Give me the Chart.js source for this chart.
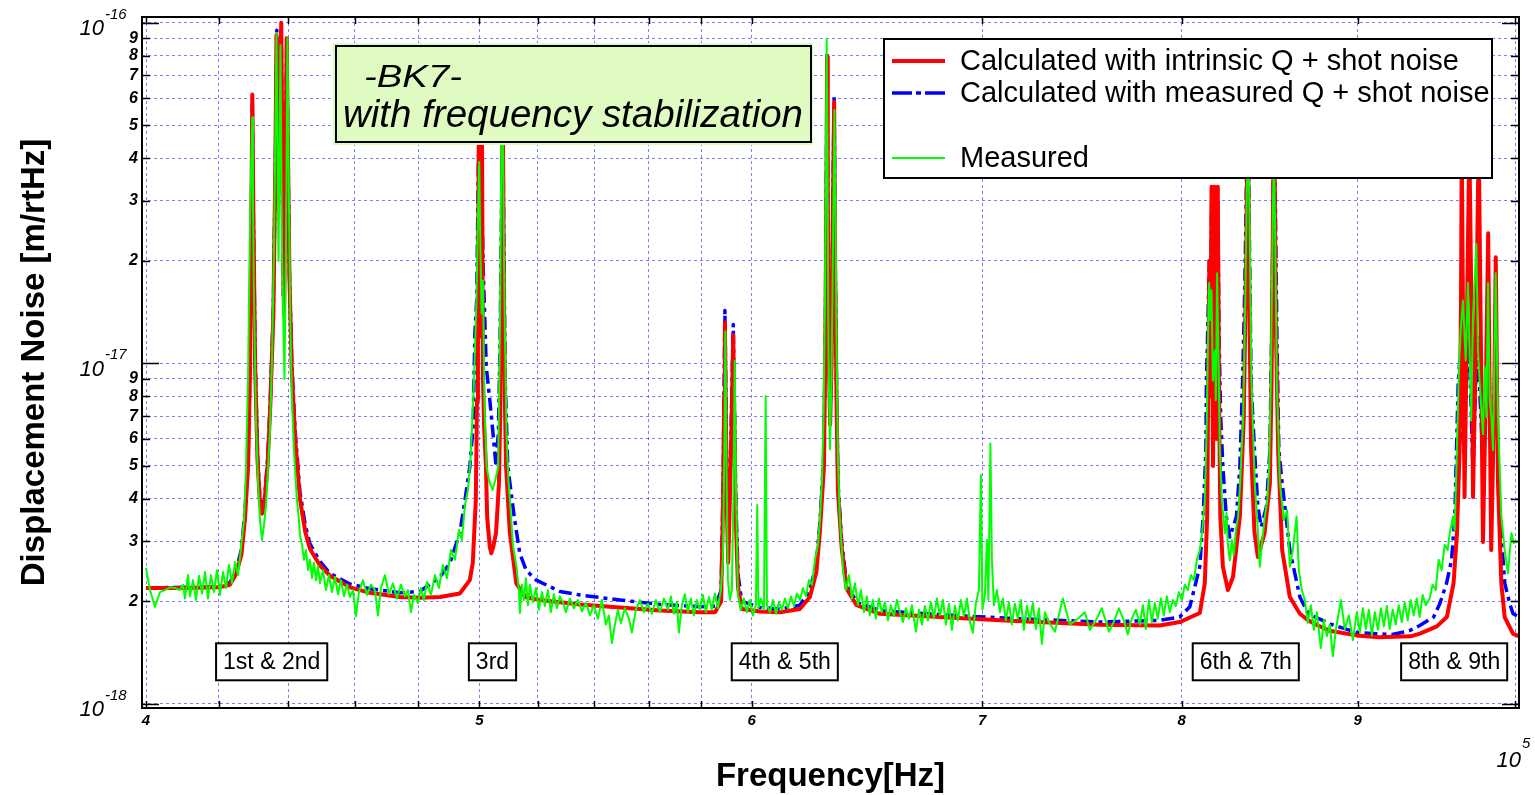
<!DOCTYPE html>
<html>
<head>
<meta charset="utf-8">
<title>BK7 displacement noise</title>
<script src="https://cdn.jsdelivr.net/npm/chart.js@4.4.1/dist/chart.umd.min.js"></script>
<style>
  html, body { margin: 0; padding: 0; background: #fff; }
</style>
</head>
<body>
<canvas id="noise" width="1535" height="795"></canvas>
<script>
// values: [frequency Hz, noise in units of 1e-18 m/rtHz]
const intrinsicQ = [
  [40000,2.19],[41000,2.19],[42000,2.20],[42310,2.24],[42480,2.40],[42640,2.75],[42740,3.5],[42830,5.0],[42880,9.0],[42920,25],
  [42950,61.5],[42980,28],[43030,10],[43100,5.2],[43170,3.9],[43230,3.62],[43300,3.9],[43390,5.0],[43470,7.5],[43560,14],
  [43620,40],[43650,92],[43680,45],[43710,35],[43750,60],[43790,100],[43830,30],[43870,14],[43910,30],[43950,90],
  [43990,40],[44030,18],[44100,9.5],[44200,6.0],[44340,4.0],[44500,3.2],[44640,2.85],[44940,2.55],[45240,2.38],[45850,2.2],
  [46470,2.12],[47410,2.06],[48050,2.05],[48700,2.06],[49350,2.11],[49680,2.31],[49780,2.6],[49880,3.97],[49920,7.8],[49950,15],
  [49980,45],[50010,80],[50040,12],[50080,70],[50120,9],[50160,6.5],[50220,4.97],[50260,3.54],[50350,2.89],[50400,2.77],
  [50470,2.9],[50560,3.18],[50660,4.45],[50700,7],[50730,12.3],[50760,30],[50790,60],[50820,19.2],[50860,7.8],[50900,5.0],
  [51030,3.18],[51250,2.26],[51560,2.06],[52070,2.02],[53480,1.96],[54930,1.92],[56420,1.88],[57950,1.86],[58540,1.86],[58780,2.0],
  [58860,4.0],[58900,8],[58930,13.2],[58960,8],[59000,4],[59060,2.6],[59120,3.8],[59200,7],[59260,12.1],[59300,7],
  [59360,3.5],[59450,2.2],[59600,1.9],[60330,1.87],[61140,1.86],[61960,1.90],[62380,2.06],[62650,2.44],[62800,3.22],[62970,5],
  [63030,12],[63080,40],[63100,79.5],[63130,30],[63180,10],[63230,6.6],[63290,10],[63340,25],[63400,58.5],[63440,20],
  [63500,8],[63560,4.24],[63720,2.88],[63930,2.18],[64360,1.95],[65370,1.84],[68050,1.80],[70840,1.76],[75740,1.71],[78840,1.70],
  [79900,1.74],[80980,1.85],[81250,2.26],[81380,3.54],[81440,8.8],[81500,20],[81550,8],[81620,33],[81700,5],[81790,33],
  [81880,6],[81960,33],[82030,8],[82100,3.55],[82240,2.53],[82520,2.16],[82800,2.36],[83180,3.55],[83400,6.96],[83540,21.5],
  [83620,60],[83720,13.7],[83810,5.56],[84000,3.18],[84190,2.7],[84570,3.18],[84870,4.45],[84960,8.7],[85060,33.7],[85110,60],
  [85200,13.7],[85340,5.56],[85570,2.83],[86010,2.06],[86590,1.84],[87080,1.76],[87650,1.70],[88340,1.64],[89950,1.59],[91300,1.57],
  [93250,1.58],[93830,1.61],[94900,1.69],[95540,1.80],[95970,2.26],[96190,3.17],[96360,5.56],[96450,15],[96500,45],[96600,10],
  [96680,4.05],[96820,12],[96990,45],[97150,12],[97230,4.05],[97420,12],[97600,45],[97780,8],[97880,2.99],[98060,8],
  [98220,24.1],[98330,7],[98420,2.83],[98620,8],[98720,20.5],[98870,4.44],[99090,2.26],[99310,1.80],[99860,1.61],[100300,1.58]
];

const measuredQ = [
  [40000,2.19],[42000,2.21],[42310,2.27],[42480,2.45],[42640,2.85],[42740,3.7],[42830,5.3],[42880,9.5],[42920,24],[42950,58],
  [42980,27],[43030,10.5],[43100,5.4],[43170,4.0],[43230,3.75],[43300,4.0],[43390,5.2],[43470,7.8],[43560,14.5],[43620,40],
  [43660,95],[43700,30],[43740,50],[43790,95],[43850,15.8],[43910,35],[43950,88],[43990,40],[44030,18.5],[44100,10],
  [44200,6.3],[44340,4.2],[44500,3.35],[44640,2.95],[44940,2.62],[45240,2.42],[45850,2.25],[46470,2.18],[47410,2.12],[48050,2.14],
  [48700,2.36],[49020,2.59],[49350,3.18],[49520,3.97],[49680,4.97],[49790,6.5],[49850,12.3],[49910,15.3],[49960,35],[50000,60],
  [50060,40],[50120,20],[50230,9.78],[50350,7.8],[50460,6.2],[50550,5.1],[50640,6.2],[50700,12],[50750,30],[50790,55],
  [50830,20],[50870,9],[50960,4.97],[51180,3.54],[51370,2.77],[51590,2.47],[51940,2.31],[52770,2.14],[53480,2.09],[54930,2.02],
  [56420,1.96],[57950,1.93],[58540,1.94],[58780,2.15],[58860,4.5],[58900,9],[58930,14.3],[58960,9],[59000,4.5],[59060,2.9],
  [59120,4.3],[59200,8],[59260,13.0],[59300,8],[59360,4],[59450,2.4],[59600,2.0],[60330,1.92],[61140,1.90],[61960,1.95],
  [62380,2.15],[62650,2.6],[62800,3.4],[62970,5.5],[63030,13],[63080,42],[63100,81.6],[63130,32],[63180,11],[63230,7.2],
  [63290,11],[63340,27],[63400,60.5],[63440,22],[63500,8.5],[63560,4.5],[63720,3.0],[63930,2.25],[64360,1.99],[65370,1.88],
  [68050,1.83],[70840,1.79],[75740,1.74],[78840,1.76],[79900,1.80],[80440,1.93],[80980,2.53],[81160,3.54],[81310,5.56],[81340,8.76],
  [81500,20],[81550,12],[81620,30],[81700,10],[81790,30],[81880,10],[81960,30],[82030,12],[82120,6.96],[82240,4.97],
  [82430,3.55],[82620,3.09],[82990,3.55],[83180,4.97],[83330,8.74],[83460,17.1],[83620,60],[83810,8.74],[84000,5.56],[84190,3.79],
  [84380,3.31],[84670,3.79],[84870,5.56],[85000,15],[85110,60],[85270,12],[85380,5.56],[85570,4.45],[86010,2.83],[86590,2.06],
  [87080,1.84],[88340,1.72],[89950,1.62],[92110,1.60],[93170,1.64],[93830,1.70],[94700,1.80],[95090,1.97],[95520,2.26],[95840,2.64],
  [96050,3.54],[96270,8.74],[96370,10.2],[96500,7],[96630,5.5],[96950,13],[97220,4.86],[97500,12],[97850,5.5],[98190,11],
  [98420,5],[98700,10],[98990,3.54],[99320,2.26],[99650,1.97],[99870,1.84],[100300,1.80]
];

const measured = [
  [40000,2.51],[40107,2.16],[40240,1.93],[40376,2.13],[40510,2.16],[40648,2.20],[40784,2.19],[40920,2.16],[41002,2.24],[41057,2.04],
  [41140,2.39],[41195,2.07],[41278,2.31],[41361,2.02],[41444,2.38],[41528,2.11],[41611,2.44],[41694,2.04],[41778,2.39],[41862,2.13],
  [41946,2.47],[42030,2.09],[42115,2.44],[42200,2.19],[42285,2.56],[42370,2.26],[42455,2.61],[42540,2.39],[42625,2.87],[42711,3.47],
  [42768,4.86],[42826,8.9],[42883,26],[42926,42],[42949,52.8],[42969,30],[42998,15.3],[43056,6.8],[43113,4.5],[43171,3.47],
  [43229,3.03],[43287,3.35],[43345,3.84],[43403,4.86],[43461,6.37],[43519,10.2],[43577,21.5],[43621,51.8],[43650,93],[43680,42],
  [43709,20],[43767,86],[43811,21.5],[43855,12.5],[43884,9.0],[43928,21.5],[43972,90],[44016,30],[44061,12.5],[44105,7.8],
  [44164,5.57],[44244,4.05],[44312,3.47],[44342,3.13],[44402,2.93],[44461,2.65],[44521,2.83],[44580,2.47],[44640,2.65],[44700,2.34],
  [44760,2.60],[44820,2.31],[44880,2.54],[44939,2.26],[45030,2.47],[45120,2.16],[45211,2.39],[45302,2.13],[45393,2.36],[45484,2.10],
  [45576,2.31],[45667,2.07],[45759,2.24],[45850,2.06],[45942,2.16],[46035,1.81],[46127,2.13],[46251,2.31],[46375,2.09],[46499,2.24],
  [46624,2.16],[46718,1.82],[46812,2.19],[46938,2.39],[47062,2.10],[47188,2.26],[47315,2.04],[47442,2.24],[47570,2.07],[47665,2.16],
  [47761,1.86],[47857,2.09],[47985,1.98],[48081,2.19],[48178,2.02],[48275,2.28],[48404,2.09],[48534,2.39],[48664,2.19],[48794,2.56],
  [48925,2.34],[49056,2.83],[49188,2.65],[49319,3.24],[49418,3.03],[49518,3.84],[49617,4.25],[49700,5.2],[49766,6.8],[49833,9.56],
  [49900,15.3],[49950,26],[49993,39],[50034,21.5],[50074,14],[50118,17.5],[50168,7.8],[50242,4.97],[50319,4.55],[50443,4.25],
  [50538,4.55],[50632,4.97],[50691,12.5],[50725,30],[50759,55],[50793,52],[50827,21.5],[50861,12.3],[50918,6.2],[50980,4.55],
  [51032,3.97],[51134,2.93],[51261,2.52],[51340,2.16],[51374,1.85],[51443,2.24],[51512,2.02],[51581,2.34],[51650,1.95],[51719,2.24],
  [51823,1.99],[51927,2.19],[52032,1.89],[52136,2.13],[52241,1.94],[52346,2.16],[52450,1.86],[52556,2.10],[52662,1.91],[52768,2.07],
  [52874,1.99],[52980,1.86],[53122,2.04],[53265,1.91],[53408,2.02],[53552,1.87],[53695,1.98],[53838,1.82],[53983,1.95],[54127,1.78],
  [54272,2.02],[54417,1.71],[54527,1.82],[54636,1.51],[54746,1.71],[54856,1.89],[54967,1.73],[55114,1.91],[55261,1.78],[55372,1.62],
  [55521,1.89],[55670,2.02],[55819,1.86],[55968,1.97],[56118,1.84],[56269,2.02],[56420,1.86],[56571,2.04],[56722,1.89],[56836,2.07],
  [56951,1.84],[57065,1.99],[57142,1.62],[57257,1.95],[57372,2.10],[57487,1.86],[57602,2.04],[57718,1.82],[57834,2.02],[57950,1.89],
  [58067,2.09],[58184,1.86],[58300,2.06],[58417,1.89],[58535,2.11],[58653,1.91],[58770,2.16],[58849,2.65],[58908,5.57],[58948,12.4],
  [58987,5.57],[59047,2.31],[59126,2.02],[59205,2.16],[59265,3.97],[59317,10.2],[59364,4.55],[59443,2.09],[59562,1.89],[59682,2.04],
  [59802,1.86],[59922,2.02],[60043,1.82],[60165,1.95],[60218,3.84],[60267,1.91],[60369,2.04],[60490,1.89],[60559,8.0],[60612,1.95],
  [60734,1.86],[60856,2.02],[60979,1.84],[61101,1.99],[61224,1.89],[61347,2.04],[61470,1.91],[61593,2.07],[61717,1.94],[61841,2.11],
  [61965,2.02],[62090,2.19],[62215,2.07],[62339,2.31],[62464,2.24],[62590,2.65],[62716,2.93],[62800,3.47],[62884,4.55],[62948,6.8],
  [63011,15.3],[63053,42],[63083,89.6],[63117,42],[63159,10.9],[63222,5.6],[63286,8.9],[63349,21.5],[63413,55.4],[63455,30],
  [63497,12.5],[63561,5.2],[63646,3.47],[63786,2.44],[63903,2.16],[64031,2.39],[64160,2.04],[64289,2.26],[64418,1.95],[64547,2.16],
  [64677,1.86],[64802,2.07],[64932,1.82],[65063,2.02],[65193,1.78],[65324,2.04],[65460,1.86],[65592,1.99],[65724,1.76],[65855,1.95],
  [65988,1.81],[66121,2.02],[66254,1.86],[66387,1.74],[66521,1.91],[66654,1.78],[66788,1.95],[66967,1.63],[67101,1.89],[67236,1.71],
  [67370,1.94],[67506,1.76],[67641,1.99],[67777,1.78],[67914,2.04],[68051,1.82],[68188,2.02],[68326,1.71],[68463,1.97],[68601,1.65],
  [68739,1.94],[68876,1.76],[69015,2.02],[69154,1.81],[69293,2.04],[69432,1.74],[69571,1.62],[69711,1.98],[69850,2.16],[69944,4.7],
  [70014,1.89],[70131,2.09],[70225,3.03],[70295,2.02],[70390,5.82],[70460,2.65],[70555,1.95],[70697,2.16],[70838,1.86],[70980,2.04],
  [71123,1.76],[71266,1.99],[71409,1.71],[71552,1.97],[71696,1.78],[71840,2.02],[71985,1.65],[72129,1.94],[72274,1.76],[72420,1.98],
  [72566,1.66],[72712,1.91],[72858,1.50],[73005,1.86],[73152,1.76],[73495,1.63],[73887,2.04],[74235,1.71],[74633,1.78],[74984,1.86],
  [75235,1.65],[75538,1.76],[75843,1.91],[76200,1.63],[76448,1.74],[76708,1.91],[76966,1.76],[77169,1.60],[77376,1.78],[77587,1.89],
  [77795,1.71],[77952,1.95],[78109,1.66],[78266,2.02],[78422,1.74],[78580,1.98],[78737,1.78],[78896,2.04],[79054,1.82],[79213,2.07],
  [79372,1.86],[79532,2.02],[79692,1.94],[79852,2.13],[80012,2.02],[80173,2.24],[80334,2.16],[80495,2.39],[80657,2.31],[80819,2.65],
  [80982,2.83],[81118,3.24],[81253,3.97],[81362,6.8],[81433,12.5],[81488,17.2],[81553,13.4],[81618,16.4],[81689,8.9],[81798,10.9],
  [81853,7.8],[81924,18.4],[82017,8.9],[82073,5.56],[82183,3.97],[82348,3.17],[82441,3.64],[82514,2.93],[82624,2.64],[82735,3.03],
  [82845,2.74],[82956,3.24],[83083,3.55],[83206,4.55],[83362,6.96],[83485,15.3],[83569,32.3],[83642,48],[83709,30],[83833,8.7],
  [84018,4.45],[84186,3.24],[84299,2.53],[84412,2.93],[84582,3.55],[84725,3.97],[84827,4.97],[84924,8.9],[85010,21.5],[85095,45],
  [85180,21.5],[85266,8.7],[85437,4.45],[85666,3.47],[85855,3.71],[86010,2.53],[86183,2.83],[86397,3.55],[86530,2.47],[86704,2.16],
  [86878,2.02],[87053,1.73],[87228,1.95],[87403,1.65],[87578,1.86],[87813,1.46],[87990,1.76],[88166,1.58],[88343,1.71],[88520,1.38],
  [88700,1.65],[88997,2.02],[89235,1.66],[89474,1.82],[89714,1.54],[89954,1.86],[90135,1.62],[90316,1.91],[90498,1.66],[90680,1.89],
  [90863,1.59],[91046,1.86],[91229,1.65],[91413,1.91],[91597,1.69],[91781,1.94],[91955,1.66],[92140,1.89],[92326,1.71],[92512,1.95],
  [92698,1.74],[92884,1.99],[93070,1.76],[93256,2.02],[93443,1.82],[93631,2.04],[93819,1.80],[94007,2.09],[94196,1.95],[94448,2.04],
  [94638,2.24],[94828,2.16],[95018,2.65],[95209,2.47],[95400,2.93],[95592,2.83],[95722,3.17],[95934,3.55],[96043,3.24],[96152,4.97],
  [96320,9.78],[96429,12.5],[96578,15.3],[96752,10.2],[96900,17.2],[97011,10.46],[97108,6.8],[97225,13.7],[97446,22.4],[97551,10.9],
  [97667,8.7],[97881,6.2],[97993,9.78],[98105,6.96],[98210,17.2],[98322,7.8],[98434,6.96],[98539,5.56],[98716,18.4],[98868,6.96],
  [99093,3.55],[99311,2.83],[99531,2.42],[99758,3.17],[99911,2.97],[100180,3.0]
];

const legendText = ['Calculated with intrinsic Q + shot noise', 'Calculated with measured Q + shot noise', 'Measured'];
const modeLabels = ['1st & 2nd', '3rd', '4th & 5th', '6th & 7th', '8th & 9th'];
const modeLabelFreq = [43510, 50440, 61340, 83510, 96010];
const modeLabelNoise = 1.33;

const xTicks = [40000, 42000, 44000, 46000, 48000, 50000, 52000, 54000, 56000, 58000, 60000, 70000, 80000, 90000, 100000];
const xTickText = ['4', '', '', '', '', '5', '', '', '', '', '6', '7', '8', '9', ''];
const yTicks = [1, 2, 3, 4, 5, 6, 7, 8, 9, 10, 20, 30, 40, 50, 60, 70, 80, 90, 100];
const yTickText = ['', '2', '3', '4', '5', '6', '7', '8', '9', '', '2', '3', '4', '5', '6', '7', '8', '9', ''];
const yDecades = [[1, '-18'], [10, '-17'], [100, '-16']];

const E18 = 1e-18;
const FONT = 'Arial, "Liberation Sans", Helvetica, sans-serif';
const GRID = 'rgba(70,70,255,0.7)';

function toPoints(rows) {
  return rows.map(r => ({ x: r[0], y: r[1] * E18 }));
}

function fitText(ctx, text, x, y, font, width) {
  ctx.font = font;
  const w = ctx.measureText(text).width;
  ctx.save();
  ctx.translate(x, y);
  ctx.scale(width / w, 1);
  ctx.fillText(text, 0, 0);
  ctx.restore();
}

const decor = {
  id: 'decor',
  afterDraw(chart) {
    const { ctx, chartArea: a, scales: { x, y } } = chart;
    ctx.save();

    // tick marks point inwards from all four sides
    ctx.strokeStyle = '#000';
    ctx.lineWidth = 1.5;
    ctx.beginPath();
    xTicks.forEach(v => {
      const px = Math.round(x.getPixelForValue(v)) + 0.5;
      ctx.moveTo(px, a.bottom); ctx.lineTo(px, a.bottom - 7);
      ctx.moveTo(px, a.top); ctx.lineTo(px, a.top + 7);
    });
    yTicks.forEach((v, i) => {
      const py = Math.round(y.getPixelForValue(v * E18)) + 0.5;
      const len = yTickText[i] === '' ? 17 : 8;
      ctx.moveTo(a.left, py); ctx.lineTo(a.left + len, py);
      ctx.moveTo(a.right, py); ctx.lineTo(a.right - len, py);
    });
    ctx.stroke();
    ctx.lineWidth = 2;
    ctx.strokeRect(a.left, a.top, a.right - a.left, a.bottom - a.top);

    // decade labels with exponents
    ctx.fillStyle = '#000';
    ctx.textBaseline = 'alphabetic';
    yDecades.forEach(([v, p]) => {
      const py = y.getPixelForValue(v * E18);
      ctx.font = 'italic 22px ' + FONT;
      ctx.textAlign = 'right';
      ctx.fillText('10', 104, py + 12.5);
      ctx.font = 'italic 15px ' + FONT;
      ctx.textAlign = 'left';
      ctx.fillText(p, 105, py - 4);
    });
    const px5 = x.getPixelForValue(1e5);
    ctx.font = 'italic 22px ' + FONT;
    ctx.textAlign = 'right';
    ctx.fillText('10', px5 + 6, 767);
    ctx.font = 'italic 15px ' + FONT;
    ctx.textAlign = 'left';
    ctx.fillText('5', px5 + 7, 748);

    // mode labels
    ctx.font = '23px ' + FONT;
    ctx.textAlign = 'center';
    ctx.textBaseline = 'middle';
    modeLabels.forEach((t, i) => {
      const cx = x.getPixelForValue(modeLabelFreq[i]);
      const cy = y.getPixelForValue(modeLabelNoise * E18);
      const w = ctx.measureText(t).width + 14, h = 37;
      ctx.fillStyle = '#fff';
      ctx.fillRect(cx - w / 2, cy - h / 2, w, h);
      ctx.strokeRect(cx - w / 2, cy - h / 2, w, h);
      ctx.fillStyle = '#000';
      ctx.fillText(t, cx, cy + 1);
    });

    // sample note
    ctx.fillStyle = '#dffbc2';
    ctx.fillRect(333, 43, 480, 102);
    ctx.strokeRect(336, 46, 475, 96);
    ctx.fillStyle = '#000';
    ctx.textAlign = 'left';
    ctx.textBaseline = 'alphabetic';
    fitText(ctx, '-BK7-', 364, 87, 'italic 31px ' + FONT, 98);
    fitText(ctx, 'with frequency stabilization', 343, 127, 'italic 38px ' + FONT, 460);

    // legend
    ctx.fillStyle = '#fff';
    ctx.fillRect(884, 39, 608, 139);
    ctx.strokeRect(884, 39, 608, 139);
    const rows = [
      { color: '#ff0000', width: 4, dash: [], y: 61 },
      { color: '#0000ff', width: 3.5, dash: [20, 4, 5, 4], y: 93 },
      { color: '#00ff00', width: 2, dash: [], y: 158 }
    ];
    ctx.textBaseline = 'middle';
    ctx.font = '29px ' + FONT;
    rows.forEach((r, i) => {
      ctx.strokeStyle = r.color;
      ctx.lineWidth = r.width;
      ctx.setLineDash(r.dash);
      ctx.beginPath();
      ctx.moveTo(892, r.y); ctx.lineTo(945, r.y);
      ctx.stroke();
      ctx.setLineDash([]);
      ctx.fillStyle = '#000';
      ctx.fillText(legendText[i], 960, r.y + 1);
    });
    ctx.restore();
  }
};

new Chart(document.getElementById('noise'), {
  type: 'line',
  data: {
    datasets: [
      { label: legendText[2], data: toPoints(measured), borderColor: '#00ff00', borderWidth: 2, order: 0 },
      { label: legendText[0], data: toPoints(intrinsicQ), borderColor: '#ff0000', borderWidth: 4, order: 1 },
      { label: legendText[1], data: toPoints(measuredQ), borderColor: '#0000ff', borderWidth: 3.5, borderDash: [13, 5, 4, 5], order: 2 }
    ]
  },
  options: {
    responsive: false,
    animation: false,
    devicePixelRatio: 1,
    parsing: false,
    elements: {
      point: { radius: 0 },
      line: { tension: 0, fill: false, borderJoinStyle: 'round' }
    },
    layout: { padding: { top: 17, right: 16, bottom: 0, left: 0 } },
    plugins: { legend: { display: false }, tooltip: { enabled: false } },
    scales: {
      x: {
        type: 'logarithmic',
        position: 'bottom',
        min: 39893,
        max: 100268,
        afterBuildTicks: s => { s.ticks = xTicks.map(v => ({ value: v })); },
        afterFit: s => { s.height = 87; },
        ticks: {
          autoSkip: false, maxRotation: 0, minRotation: 0, padding: 4, color: '#000',
          font: { family: FONT, size: 15, style: 'italic', weight: 'bold' },
          callback: (v, i) => xTickText[i]
        },
        grid: { color: GRID, lineWidth: 1, drawTicks: false },
        border: { display: false, dash: [3, 3] },
        title: {
          display: true, text: 'Frequency[Hz]', color: '#000',
          font: { family: FONT, size: 33, weight: 'bold', lineHeight: 1.1 },
          padding: { top: 0, bottom: 0 }
        }
      },
      y: {
        type: 'logarithmic',
        position: 'left',
        min: 0.9733 * E18,
        max: 103.93 * E18,
        afterBuildTicks: s => { s.ticks = yTicks.map(v => ({ value: v * E18 })); },
        afterFit: s => { s.width = 142; },
        ticks: {
          autoSkip: false, padding: 4, color: '#000',
          font: { family: FONT, size: 16, style: 'italic', weight: 'bold' },
          callback: (v, i) => yTickText[i]
        },
        grid: { color: GRID, lineWidth: 1, drawTicks: false },
        border: { display: false, dash: [3, 3] },
        title: {
          display: true, text: 'Displacement Noise [m/rtHz]', color: '#000',
          font: { family: FONT, size: 33, weight: 'bold' },
          padding: { top: 15, bottom: 0 }
        }
      }
    }
  },
  plugins: [decor]
});
</script>
</body>
</html>
